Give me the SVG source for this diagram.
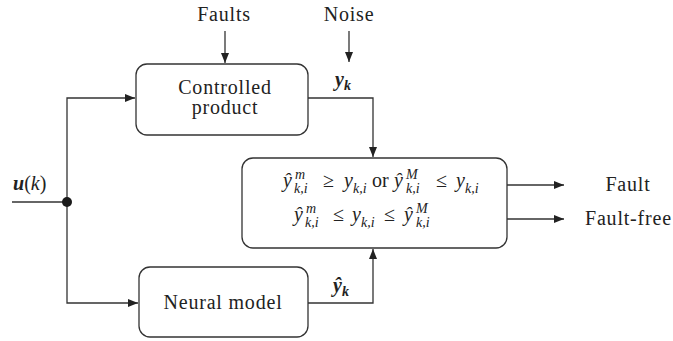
<svg xmlns="http://www.w3.org/2000/svg" width="673" height="341" viewBox="0 0 673 341">
  <style>
    .box { fill: #ffffff; stroke: #333333; stroke-width: 1.3; }
    .wire { fill: none; stroke: #333333; stroke-width: 1.3; }
  </style>
  <defs>
    <marker id="arr" viewBox="0 0 10 8" refX="10" refY="4" markerWidth="10" markerHeight="8" markerUnits="userSpaceOnUse" orient="auto">
      <path d="M0,0 L10,4 L0,8 Z" fill="#222222"/>
    </marker>
  </defs>

  <!-- connectors -->
  <g id="connectors">
    <line class="wire" x1="225" y1="31" x2="225" y2="63" marker-end="url(#arr)"/>
    <line class="wire" x1="349" y1="31" x2="349" y2="62" marker-end="url(#arr)"/>
    <line class="wire" x1="12" y1="202" x2="67" y2="202"/>
    <polyline class="wire" points="67,202 67,98 135,98" marker-end="url(#arr)"/>
    <polyline class="wire" points="67,202 67,303 138,303" marker-end="url(#arr)"/>
    <polyline class="wire" points="308,98 373,98 373,157" marker-end="url(#arr)"/>
    <polyline class="wire" points="308,303 373,303 373,249" marker-end="url(#arr)"/>
    <line class="wire" x1="507" y1="185" x2="564" y2="185" marker-end="url(#arr)"/>
    <line class="wire" x1="507" y1="219" x2="564" y2="219" marker-end="url(#arr)"/>
    <circle cx="67" cy="202" r="5" fill="#1a1a1a"/>
  </g>

  <!-- external inputs / outputs -->
  <g id="inputs" fill="#222222">
    <text font-family="Liberation Serif" font-size="20" letter-spacing="0.8" x="224" y="21" text-anchor="middle">Faults</text>
    <text font-family="Liberation Serif" font-size="20" letter-spacing="0.8" x="349" y="21" text-anchor="middle">Noise</text>
    <text font-family="Liberation Serif" font-size="20" x="13" y="190"><tspan font-style="italic" font-weight="bold">u</tspan><tspan>(</tspan><tspan font-style="italic">k</tspan><tspan>)</tspan></text>
    <text font-family="Liberation Serif" font-size="20" letter-spacing="0.8" x="628" y="191" text-anchor="middle">Fault</text>
    <text font-family="Liberation Serif" font-size="20" letter-spacing="0.8" x="585" y="225">Fault-free</text>
  </g>

  <!-- signal labels -->
  <g id="signals" fill="#222222">
    <text font-family="Liberation Serif" font-size="20" font-style="italic" font-weight="bold" x="335" y="86">y<tspan font-size="14" dy="4">k</tspan></text>
    <text font-family="Liberation Serif" font-size="20" font-style="italic" font-weight="bold" x="333" y="292">ŷ<tspan font-size="14" dy="4">k</tspan></text>
  </g>

  <g id="controlled-product" fill="#222222">
    <rect class="box" x="136" y="64" width="172" height="71" rx="11"/>
    <text font-family="Liberation Serif" font-size="20" letter-spacing="0.8" x="225" y="94" text-anchor="middle">Controlled</text>
    <text font-family="Liberation Serif" font-size="20" letter-spacing="0.8" x="225" y="114" text-anchor="middle">product</text>
  </g>

  <g id="neural-model" fill="#222222">
    <rect class="box" x="139" y="267" width="169" height="70" rx="11"/>
    <text font-family="Liberation Serif" font-size="20" letter-spacing="0.8" x="223" y="309" text-anchor="middle">Neural model</text>
  </g>

  <g id="decision" fill="#222222">
    <rect class="box" x="242" y="158" width="265" height="90" rx="11"/>
    <!-- first condition -->
    <text font-family="Liberation Serif" font-size="20" font-style="italic" x="283" y="187">ŷ</text>
    <text font-family="Liberation Serif" font-size="14" font-style="italic" x="295" y="179">m</text>
    <text font-family="Liberation Serif" font-size="14" font-style="italic" x="294" y="193">k,i</text>
    <text font-family="Liberation Serif" font-size="20" x="323" y="187">≥</text>
    <text font-family="Liberation Serif" font-size="20" font-style="italic" x="344" y="187">y</text>
    <text font-family="Liberation Serif" font-size="14" font-style="italic" x="353" y="193">k,i</text>
    <text font-family="Liberation Serif" font-size="20" x="372" y="187">or</text>
    <text font-family="Liberation Serif" font-size="20" font-style="italic" x="394" y="187">ŷ</text>
    <text font-family="Liberation Serif" font-size="14" font-style="italic" x="406" y="179">M</text>
    <text font-family="Liberation Serif" font-size="14" font-style="italic" x="406" y="193">k,i</text>
    <text font-family="Liberation Serif" font-size="20" x="436" y="187">≤</text>
    <text font-family="Liberation Serif" font-size="20" font-style="italic" x="456" y="187">y</text>
    <text font-family="Liberation Serif" font-size="14" font-style="italic" x="465" y="193">k,i</text>
    <!-- second condition -->
    <text font-family="Liberation Serif" font-size="20" font-style="italic" x="294" y="221">ŷ</text>
    <text font-family="Liberation Serif" font-size="14" font-style="italic" x="306" y="213">m</text>
    <text font-family="Liberation Serif" font-size="14" font-style="italic" x="305" y="227">k,i</text>
    <text font-family="Liberation Serif" font-size="20" x="333" y="221">≤</text>
    <text font-family="Liberation Serif" font-size="20" font-style="italic" x="352" y="221">y</text>
    <text font-family="Liberation Serif" font-size="14" font-style="italic" x="361" y="227">k,i</text>
    <text font-family="Liberation Serif" font-size="20" x="384" y="221">≤</text>
    <text font-family="Liberation Serif" font-size="20" font-style="italic" x="404" y="221">ŷ</text>
    <text font-family="Liberation Serif" font-size="14" font-style="italic" x="416" y="213">M</text>
    <text font-family="Liberation Serif" font-size="14" font-style="italic" x="416" y="227">k,i</text>
  </g>
</svg>
